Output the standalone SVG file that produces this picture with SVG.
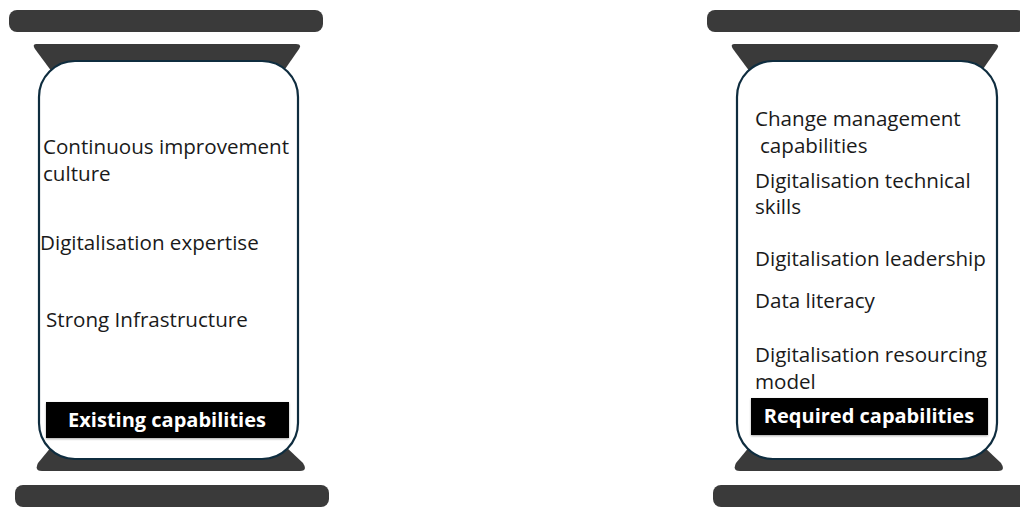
<svg xmlns="http://www.w3.org/2000/svg" width="1020" height="507" viewBox="0 0 1020 507">
<defs>
<style>
.bar{fill:#3a3a3a}
.box{fill:#ffffff;stroke:#0f2d3f;stroke-width:2.2}
.t{font-family:"Open Sans","Liberation Sans",sans-serif;font-size:20.6px;fill:#1a1a1a}
.lbl{fill:#000}
.lt{font-family:"Open Sans","Liberation Sans",sans-serif;font-size:20px;font-weight:bold;fill:#ffffff;text-anchor:middle}
</style>
<filter id="sh" x="-5%" y="-20%" width="110%" height="150%">
<feGaussianBlur in="SourceAlpha" stdDeviation="1.2"/>
<feOffset dx="0" dy="1" result="b"/>
<feComponentTransfer><feFuncA type="linear" slope="0.35"/></feComponentTransfer>
<feMerge><feMergeNode/><feMergeNode in="SourceGraphic"/></feMerge>
</filter>
</defs>
<rect width="1020" height="507" fill="#ffffff"/>
<g id="existing">
<rect class="bar" x="9" y="10" width="314" height="22" rx="8"/>
<path class="bar" d="M36,44 L296,44 Q302,44 299,49 L283,72 L52,72 L35,49 Q32,44 36,44 Z"/>
<path class="bar" d="M52,446 L285,446 L303,463 Q308,471 300,471 L42,471 Q34,471 38,463 Z"/>
<rect class="bar" x="15" y="485" width="314" height="22" rx="8"/>
<rect class="box" x="39" y="61" width="259" height="398" rx="36"/>
<text class="t" x="43" y="154">Continuous improvement</text>
<text class="t" x="43" y="181">culture</text>
<text class="t" x="40" y="250">Digitalisation expertise</text>
<text class="t" x="46" y="327">Strong Infrastructure</text>
<rect class="lbl" x="46" y="402" width="243" height="36" filter="url(#sh)"/>
<text class="lt" x="167" y="427">Existing capabilities</text>
</g>
<g id="required">
<rect class="bar" x="707" y="10" width="318" height="22" rx="8"/>
<path class="bar" d="M734,44 L994,44 Q1000,44 997,49 L981,72 L750,72 L733,49 Q730,44 734,44 Z"/>
<path class="bar" d="M750,446 L983,446 L1001,463 Q1006,471 998,471 L740,471 Q732,471 736,463 Z"/>
<rect class="bar" x="713" y="485" width="318" height="22" rx="8"/>
<rect class="box" x="737" y="61" width="260" height="398" rx="36"/>
<text class="t" x="755" y="126">Change management</text>
<text class="t" x="760" y="153">capabilities</text>
<text class="t" x="755" y="188">Digitalisation technical</text>
<text class="t" x="755" y="214">skills</text>
<text class="t" x="755" y="266">Digitalisation leadership</text>
<text class="t" x="755" y="308">Data literacy</text>
<text class="t" x="755" y="362">Digitalisation resourcing</text>
<text class="t" x="755" y="389">model</text>
<rect class="lbl" x="751" y="398" width="237" height="37" filter="url(#sh)"/>
<text class="lt" x="869" y="423">Required capabilities</text>
</g>
<g id="connectors"/>
</svg>
